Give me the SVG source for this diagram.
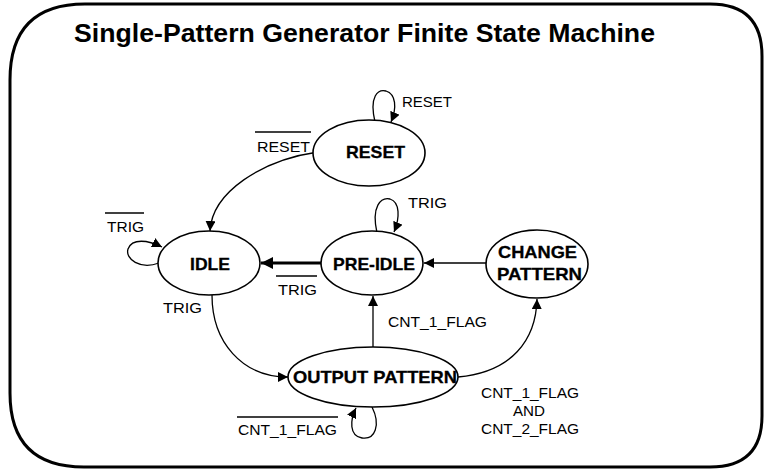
<svg xmlns="http://www.w3.org/2000/svg" width="764" height="470" viewBox="0 0 764 470">
<style>
.frame{fill:#fff;stroke:#000;stroke-width:3}
.node{fill:#fff;stroke:#000;stroke-width:1.6}
.edge{fill:none;stroke:#000;stroke-width:1.3}
.thick{fill:none;stroke:#000;stroke-width:3}
.ol{stroke:#000;stroke-width:1.3}
.title{font-family:"Liberation Sans",Arial,sans-serif;font-weight:bold;font-size:26px;fill:#000}
.nt{font-family:"Liberation Sans",Arial,sans-serif;font-weight:bold;font-size:17px;fill:#000;stroke:#000;stroke-width:0.3}
.lb{font-family:"Liberation Sans",Arial,sans-serif;font-size:15px;fill:#000}
</style>
<defs>
<marker id="ah" viewBox="0 0 10 10" refX="10" refY="5" markerWidth="10" markerHeight="10" markerUnits="userSpaceOnUse" orient="auto">
<path d="M0,0 L10,5 L0,10 z" fill="#000"/>
</marker>
<marker id="ahb" viewBox="0 0 10 10" refX="10" refY="5" markerWidth="13" markerHeight="12" markerUnits="userSpaceOnUse" orient="auto">
<path d="M0,0 L10,5 L0,10 z" fill="#000"/>
</marker>
</defs>
<rect width="764" height="470" fill="#fff"/>
<path class="frame" d="M85,4 L710,4 Q762,4 762,56 L762,416 Q762,467 710,467 L84,467 Q10,467 10,393 L10,80 Q10,4 85,4 Z"/>
<text class="title" x="74" y="42" textLength="581" lengthAdjust="spacingAndGlyphs">Single-Pattern Generator Finite State Machine</text>

<g id="connectors">
<path class="edge" d="M375,122 C369,96 378,89 386,91 C396,94 397,108 391,122" marker-end="url(#ah)"/>
<path class="edge" d="M318,152 C262,160 212,192 210,231" marker-end="url(#ah)"/>
<path class="edge" d="M377,233 C371,206 381,197 390,199 C400,202 400,218 394,232" marker-end="url(#ah)"/>
<path class="edge" d="M159,263 C140,270 125,259 128,249 C132,238 148,240 162,247" marker-end="url(#ah)"/>
<path class="thick" d="M322,263 L261,263" marker-end="url(#ahb)"/>
<path class="edge" d="M487,263 L424,263" marker-end="url(#ah)"/>
<path class="edge" d="M373,347 L373,296" marker-end="url(#ah)"/>
<path class="edge" d="M212,295 C212,342 242,377 288,377" marker-end="url(#ah)"/>
<path class="edge" d="M458,377 C512,372 536,340 537,299" marker-end="url(#ah)"/>
<path class="edge" d="M372,407 C381,425 375,440 362,438 C349,436 350,420 356,408" marker-end="url(#ah)"/>
</g>

<g id="labels">
<text class="lb" x="402" y="107" textLength="50" lengthAdjust="spacingAndGlyphs">RESET</text>
<line class="ol" x1="255" y1="132" x2="311" y2="132"/>
<text class="lb" x="257" y="152" textLength="53" lengthAdjust="spacingAndGlyphs">RESET</text>
<text class="lb" x="408" y="208" textLength="39" lengthAdjust="spacingAndGlyphs">TRIG</text>
<line class="ol" x1="105" y1="213" x2="144" y2="213"/>
<text class="lb" x="107" y="232" textLength="37" lengthAdjust="spacingAndGlyphs">TRIG</text>
<line class="ol" x1="276" y1="276" x2="317" y2="276"/>
<text class="lb" x="278" y="295" textLength="39" lengthAdjust="spacingAndGlyphs">TRIG</text>
<text class="lb" x="163" y="313" textLength="39" lengthAdjust="spacingAndGlyphs">TRIG</text>
<text class="lb" x="388" y="327" textLength="99" lengthAdjust="spacingAndGlyphs">CNT_1_FLAG</text>
<line class="ol" x1="237" y1="417" x2="338" y2="417"/>
<text class="lb" x="238" y="435" textLength="99" lengthAdjust="spacingAndGlyphs">CNT_1_FLAG</text>
<text class="lb" x="481" y="398" textLength="98" lengthAdjust="spacingAndGlyphs">CNT_1_FLAG</text>
<text class="lb" x="513" y="416" textLength="32" lengthAdjust="spacingAndGlyphs">AND</text>
<text class="lb" x="481" y="434" textLength="98" lengthAdjust="spacingAndGlyphs">CNT_2_FLAG</text>
</g>

<g id="node-reset">
<ellipse class="node" cx="369" cy="153" rx="56" ry="33"/>
<text class="nt" x="346" y="158" textLength="59" lengthAdjust="spacingAndGlyphs">RESET</text>
</g>
<g id="node-idle">
<ellipse class="node" cx="209" cy="263" rx="51" ry="32"/>
<text class="nt" x="190" y="270" textLength="40" lengthAdjust="spacingAndGlyphs">IDLE</text>
</g>
<g id="node-preidle">
<ellipse class="node" cx="372" cy="263" rx="51" ry="32"/>
<text class="nt" x="333" y="270" textLength="82" lengthAdjust="spacingAndGlyphs">PRE-IDLE</text>
</g>
<g id="node-change">
<ellipse class="node" cx="537" cy="264" rx="51" ry="34"/>
<text class="nt" x="498" y="258" textLength="79" lengthAdjust="spacingAndGlyphs">CHANGE</text>
<text class="nt" x="497" y="280" textLength="85" lengthAdjust="spacingAndGlyphs">PATTERN</text>
</g>
<g id="node-output">
<ellipse class="node" cx="373" cy="377" rx="85" ry="30"/>
<text class="nt" x="293" y="383" textLength="164" lengthAdjust="spacingAndGlyphs">OUTPUT PATTERN</text>
</g>
</svg>
